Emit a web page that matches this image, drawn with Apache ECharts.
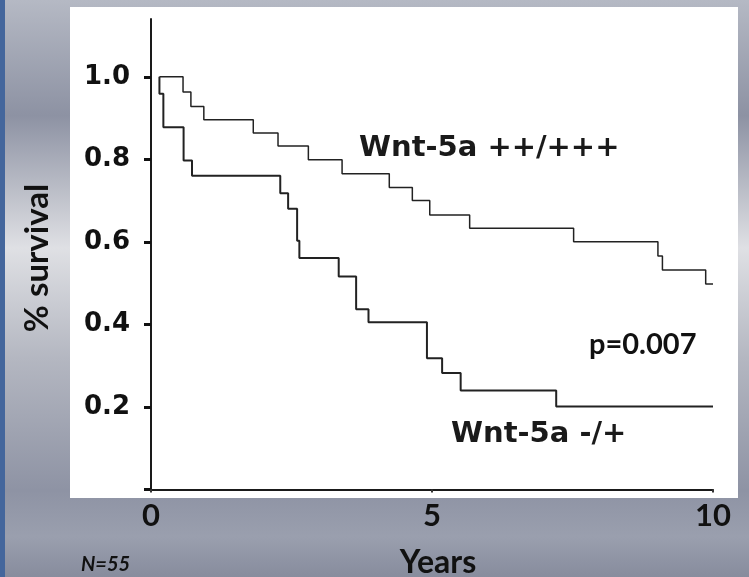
<!DOCTYPE html>
<html>
<head>
<meta charset="utf-8">
<script src="https://cdn.jsdelivr.net/npm/echarts@6/dist/echarts.min.js"></script>
<style>
  html, body { margin: 0; padding: 0; }
  #wrap {
    width: 749px; height: 577px; position: relative;
    background: linear-gradient(to bottom, #b5b9c4 0%, #8d92a3 20%, #dfe0e4 43%, #b4b7c1 62%, #8e93a4 85%, #9a9fae 93%, #878c9d 100%);
  }
  #edge { position: absolute; left: 0; top: 0; width: 5px; height: 577px; background: #44669c; }
  #main { position: absolute; left: 0; top: 0; width: 749px; height: 577px; }
</style>
</head>
<body>
<div id="wrap">
  <div id="edge"></div>
  <div id="main"></div>
</div>
<script>
  // Wnt-5a ++/+++ group (step points: time in years, survival)
  const highTimes = [0.15, 0.57, 0.71, 0.94, 1.82, 2.26, 2.80, 3.40, 4.24, 4.65, 4.96, 5.67, 7.52, 9.02, 9.10, 9.87, 10.0];
  const highSurv  = [1.0, 0.963, 0.928, 0.896, 0.864, 0.832, 0.799, 0.765, 0.732, 0.700, 0.665, 0.633, 0.600, 0.566, 0.532, 0.498, 0.498];

  // Wnt-5a -/+ group
  const lowTimes = [0.15, 0.15, 0.22, 0.58, 0.73, 2.30, 2.44, 2.60, 2.64, 3.34, 3.65, 3.87, 4.91, 5.18, 5.51, 7.21, 10.0];
  const lowSurv  = [1.0, 0.959, 0.878, 0.797, 0.760, 0.718, 0.680, 0.603, 0.561, 0.516, 0.437, 0.405, 0.318, 0.282, 0.240, 0.201, 0.201];

  const yTicks = [0, 0.2, 0.4, 0.6, 0.8, 1.0];
  const yLabels = [0.2, 0.4, 0.6, 0.8, 1.0];
  const xTicks = [0, 5, 10];

  const pair = (xs, ys) => xs.map((x, i) => [x, ys[i]]);

  const myChart = echarts.init(document.getElementById('main'), null, { renderer: 'canvas' });

  myChart.setOption({
    backgroundColor: 'transparent',
    animation: false,
    grid: { left: 151, right: 36, top: 19, bottom: 87.5 },
    xAxis: {
      type: 'value',
      min: 0, max: 10, interval: 5,
      splitLine: { show: false },
      axisLine: { lineStyle: { color: '#1a1a1a', width: 2 } },
      axisTick: { show: true, length: 3, lineStyle: { color: '#333', width: 2 }, customValues: xTicks },
      axisLabel: {
        customValues: xTicks,
        margin: 11,
        fontFamily: 'Lato', fontWeight: 'bold', fontSize: 31, color: '#111'
      }
    },
    yAxis: {
      type: 'value',
      min: 0, max: 1.14, interval: 0.2,
      splitLine: { show: false },
      axisLine: { show: true, lineStyle: { color: '#1a1a1a', width: 2 } },
      axisTick: { show: true, length: 7, lineStyle: { color: '#111', width: 3 }, customValues: yTicks },
      axisLabel: {
        customValues: yLabels,
        margin: 21,
        formatter: v => v.toFixed(1),
        fontFamily: 'DejaVu Sans', fontWeight: 'bold', fontSize: 26, color: '#111'
      }
    },
    graphic: [
      { type: 'rect', z: -10, silent: true, shape: { x: 70, y: 7, width: 668, height: 491 }, style: { fill: '#fff' } },
      { type: 'text', left: 359, top: 134, style: { text: 'Wnt-5a ++/+++', font: 'bold 29px "DejaVu Sans"', fill: '#1a1a1a' } },
      { type: 'text', left: 451, top: 420, style: { text: 'Wnt-5a -/+', font: 'bold 29px "DejaVu Sans"', fill: '#1a1a1a' } },
      { type: 'text', left: 589, top: 330, style: { text: 'p=0.007', font: 'bold 29px Lato', fill: '#111' } },
      { type: 'text', x: 37, y: 258, rotation: Math.PI / 2, style: { text: '% survival', font: 'bold 33px Lato', fill: '#111', align: 'center', verticalAlign: 'middle' } },
      { type: 'text', x: 438, y: 563, style: { text: 'Years', font: 'bold 32px Lato', fill: '#111', align: 'center', verticalAlign: 'middle' } },
      { type: 'text', x: 81, y: 565, style: { text: 'N=55', font: 'italic bold 20px Lato', fill: '#111', align: 'left', verticalAlign: 'middle' } }
    ],
    series: [
      {
        name: 'Wnt-5a ++/+++',
        type: 'line',
        step: 'end',
        showSymbol: false,
        lineStyle: { color: '#222', width: 1.5 },
        data: pair(highTimes, highSurv)
      },
      {
        name: 'Wnt-5a -/+',
        type: 'line',
        step: 'end',
        showSymbol: false,
        lineStyle: { color: '#222', width: 2 },
        data: pair(lowTimes, lowSurv)
      }
    ]
  });
</script>
</body>
</html>
